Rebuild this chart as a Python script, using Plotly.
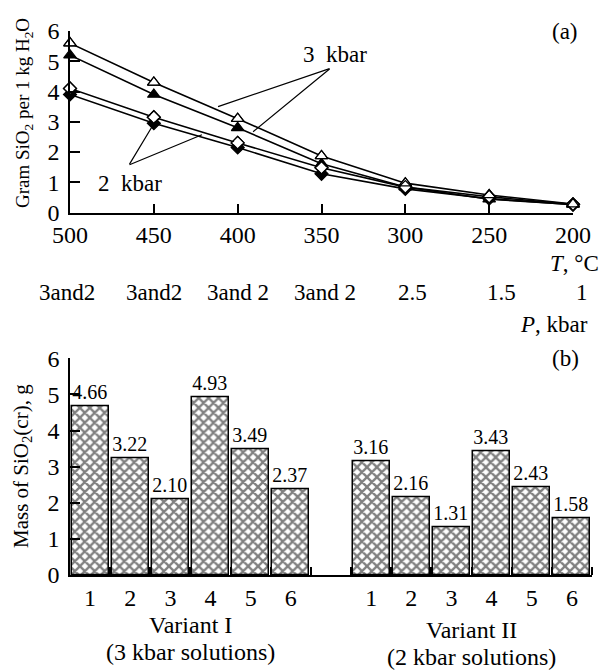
import plotly.graph_objects as go

# ---------------- data: panel (a) ----------------
T_vals = [500, 450, 400, 350, 300, 250, 200]
T_ticktext = ["500", "450", "400", "350", "300", "250", "200"]
P_labels = ["3and2", "3and2", "3and 2", "3and 2", "2.5", "1.5", "1"]
P_xshift = [-3, 0, 0, 3, 7, 12, 9]

tri_open = [5.6, 4.3, 3.1, 1.87, 0.97, 0.58, 0.28]
tri_filled = [5.2, 3.9, 2.8, 1.61, 0.84, 0.44, 0.27]
dia_open = [4.1, 3.15, 2.3, 1.48, 0.84, 0.52, 0.27]
dia_filled = [3.9, 2.95, 2.15, 1.28, 0.78, 0.46, 0.26]

# ---------------- data: panel (b) ----------------
bar_labels = ["1", "2", "3", "4", "5", "6"]
variant1 = [4.66, 3.22, 2.10, 4.93, 3.49, 2.37]
variant2 = [3.16, 2.16, 1.31, 3.43, 2.43, 1.58]

FONT = "Liberation Serif"
W, H = 602, 671


def px(x):
    return x / W


def py(y):
    return (H - y) / H


fig = go.Figure()

series = [
    ("3 kbar (open)", tri_open, "triangle-up-open", 11),
    ("3 kbar (filled)", tri_filled, "triangle-up", 11),
    ("2 kbar (open)", dia_open, "diamond-open", 10),
    ("2 kbar (filled)", dia_filled, "diamond", 10),
]
for name, vals, sym, sz in series:
    fig.add_trace(go.Scatter(
        x=T_vals, y=vals, name=name, mode="lines+markers",
        line=dict(color="black", width=1.6),
        marker=dict(symbol=sym, size=sz, color="black",
                    line=dict(color="black", width=1.2)),
        xaxis="x", yaxis="y", showlegend=False, cliponaxis=False,
    ))
# white fill for open markers
for vals, sym, sz in [(tri_open, "triangle-up", 9), (dia_open, "diamond", 8)]:
    fig.add_trace(go.Scatter(
        x=T_vals, y=vals, mode="markers",
        marker=dict(symbol=sym, size=sz, color="white"),
        xaxis="x", yaxis="y", showlegend=False, hoverinfo="skip", cliponaxis=False,
    ))
for vals, sym, sz in [(tri_open, "triangle-up-open", 11), (dia_open, "diamond-open", 10)]:
    fig.add_trace(go.Scatter(
        x=T_vals, y=vals, mode="markers",
        marker=dict(symbol=sym, size=sz, color="black", line=dict(width=1.2)),
        xaxis="x", yaxis="y", showlegend=False, hoverinfo="skip", cliponaxis=False,
    ))

pos1 = list(range(len(variant1)))
pos2 = [i + len(variant1) + 1 for i in range(len(variant2))]

pattern = dict(shape="x", size=7, solidity=0.55, fgcolor="black", bgcolor="white")
for pos, vals, name in [(pos1, variant1, "Variant I"), (pos2, variant2, "Variant II")]:
    fig.add_trace(go.Bar(
        x=pos, y=vals, name=name, width=0.92,
        marker=dict(color="white", pattern=pattern, line=dict(color="black", width=1.5)),
        text=[f"{v:.2f}" for v in vals], textposition="outside",
        textfont=dict(family=FONT, size=20, color="black"),
        cliponaxis=False, xaxis="x2", yaxis="y2", showlegend=False,
    ))

all_pos = pos1 + pos2
all_labels = bar_labels + bar_labels
n_slots = len(pos1) + len(pos2) + 1
boundaries = [k + 0.5 for k in range(n_slots)]

axis_common = dict(showline=True, linecolor="black", linewidth=1.5, showgrid=False,
                   zeroline=False, tickcolor="black", tickwidth=1.5, automargin=False,
                   tickfont=dict(family=FONT, size=24, color="black"))

fig.update_layout(
    width=W, height=H, margin=dict(l=0, r=0, t=0, b=0, pad=0, autoexpand=False),
    paper_bgcolor="white", plot_bgcolor="white",
    font=dict(family=FONT, color="black"),
    showlegend=False,
    bargap=0,
    xaxis=dict(domain=[px(70), px(573)], range=[500, 200], anchor="y",
               tickmode="array", tickvals=T_vals, ticktext=T_ticktext,
               ticks="inside", ticklen=9, ticklabelstandoff=0, **axis_common),
    yaxis=dict(domain=[py(212.5), py(31)], range=[0, 6], anchor="x", dtick=1,
               ticks="inside", ticklen=10, ticklabelstandoff=4, **axis_common),
    xaxis2=dict(domain=[px(70), px(592)], range=[-0.5, n_slots - 0.5], anchor="y2",
                tickmode="array", tickvals=all_pos, ticktext=all_labels,
                ticks="", ticklabelstandoff=0,
                minor=dict(tickmode="array", tickvals=boundaries, ticks="inside",
                           ticklen=8, tickcolor="black", tickwidth=1.5),
                **axis_common),
    yaxis2=dict(domain=[py(575), py(358.3)], range=[0, 6], anchor="x2", dtick=1,
                ticks="inside", ticklen=10, ticklabelstandoff=4, **axis_common),
)


def label(text, x, y, size, xref="paper", xanchor="center", angle=0, xshift=0):
    return dict(text=text, x=x, y=y, xref=xref, yref="paper", showarrow=False,
                xanchor=xanchor, yanchor="middle", textangle=angle, xshift=xshift,
                font=dict(family=FONT, size=size, color="black"))


ann = []
# y-axis titles
ann.append(label("Gram SiO<sub>2</sub> per 1 kg H<sub>2</sub>O", px(24), py(113), 19, angle=-90))
ann.append(label("Mass of SiO<sub>2</sub>(cr), g", px(22), py(466), 21, angle=-90))
# panel labels
ann.append(label("(a)", px(565), py(32), 23))
ann.append(label("(b)", px(565), py(358), 23))
# axis labels
ann.append(label("<i>T</i>, °C", px(601), py(263), 23, xanchor="right"))
ann.append(label("<i>P</i>, kbar", px(590), py(324), 23, xanchor="right"))
for t, lab, xs in zip(T_vals, P_labels, P_xshift):
    ann.append(label(lab, t, py(292), 23, xref="x", xshift=xs))
# series labels with pointer lines
ann.append(label("3  kbar", px(335), py(55), 23))
ann.append(label("2  kbar", px(130), py(184), 23))
pointers = [
    ((344.9, 4.76), (411.7, 3.50)),
    ((344.9, 4.76), (390.8, 2.67)),
    ((464.8, 1.57), (449.3, 3.0)),
    ((464.8, 1.57), (421.3, 2.57)),
]
for (sx, sy), (tx, ty) in pointers:
    ann.append(dict(text=" ", x=tx, y=ty, xref="x", yref="y", ax=sx, ay=sy,
                    axref="x", ayref="y", showarrow=True, arrowhead=0,
                    font=dict(size=1), borderpad=0,
                    arrowwidth=1.2, arrowcolor="black", standoff=0, startstandoff=0))
# variant labels
ann.append(label("Variant I", 2.5, py(625), 24, xref="x2"))
ann.append(label("(3 kbar solutions)", 2.5, py(652), 24, xref="x2"))
ann.append(label("Variant II", 9.5, py(630), 24, xref="x2"))
ann.append(label("(2 kbar solutions)", 9.5, py(657), 24, xref="x2"))

fig.update_layout(annotations=ann)

fig.write_html("out.html")
